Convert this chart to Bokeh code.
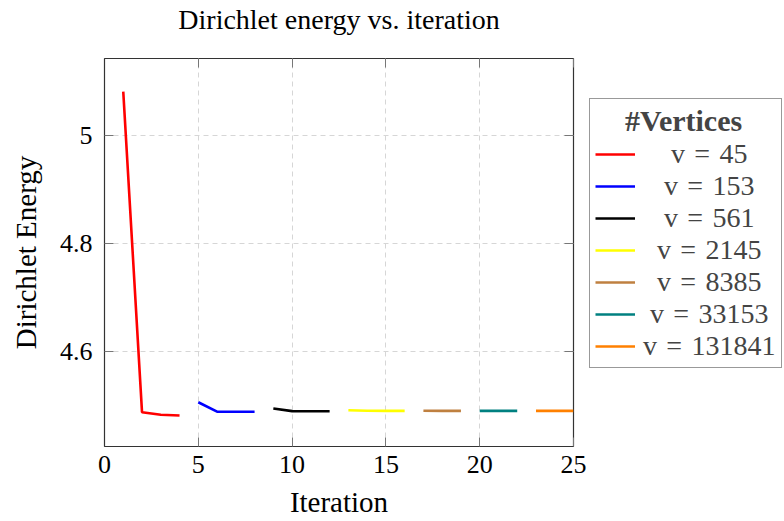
from bokeh.plotting import figure
from bokeh.layouts import row
from bokeh.models import Range1d, LinearAxis, Legend, LegendItem, FixedTicker
from bokeh.embed import file_html
from bokeh.resources import INLINE

# Dirichlet energy per iteration, one run per mesh resolution
vertices = [45, 153, 561, 2145, 8385, 33153, 131841]
iters_45 = [1, 2, 3, 4]
energy_45 = [5.0815, 4.4876, 4.4828, 4.4815]
iters_153 = [5, 6, 7, 8]
energy_153 = [4.5060, 4.4886, 4.4885, 4.4885]
iters_561 = [9, 10, 11, 12]
energy_561 = [4.4944, 4.4895, 4.4894, 4.4894]
iters_2145 = [13, 14, 15, 16]
energy_2145 = [4.4913, 4.4902, 4.4901, 4.4901]
iters_8385 = [17, 18, 19]
energy_8385 = [4.4902, 4.4901, 4.4901]
iters_33153 = [20, 21, 22]
energy_33153 = [4.4901, 4.4901, 4.4901]
iters_131841 = [23, 24, 25]
energy_131841 = [4.4901, 4.4901, 4.4901]

x_ticks = [0, 5, 10, 15, 20, 25]
y_ticks = [4.6, 4.8, 5.0]

series = [
    (iters_45, energy_45, "#ff0000"),
    (iters_153, energy_153, "#0000ff"),
    (iters_561, energy_561, "#000000"),
    (iters_2145, energy_2145, "#ffff00"),
    (iters_8385, energy_8385, "#bf8040"),
    (iters_33153, energy_33153, "#008080"),
    (iters_131841, energy_131841, "#ff8000"),
]

FONT = "Liberation Serif"
TICK_FS = "26px"
LABEL_FS = "29px"
LINE_W = 2.6
TICK_COLOR = "#777777"
FRAME_COLOR = "#333333"

p = figure(
    width=588, height=521,
    x_range=Range1d(0, 25), y_range=Range1d(4.424, 5.143),
    output_backend="svg", toolbar_location=None,
    min_border_left=104, min_border_right=15,
    min_border_top=58, min_border_bottom=75,
    title="Dirichlet energy vs. iteration",
)
p.title.text_font = FONT
p.title.text_font_size = "28px"
p.title.text_font_style = "normal"
p.title.align = "center"
p.title.text_color = "#000000"
p.title.standoff = 0
# keep the title well clear of the frame
p.title.padding = {"left": 0, "right": 0, "top": 0, "bottom": 24}

p.outline_line_color = FRAME_COLOR
p.outline_line_width = 1.2
p.background_fill_color = "white"
p.border_fill_color = "white"

for ax in (p.xaxis[0], p.yaxis[0]):
    ax.major_label_text_font = FONT
    ax.major_label_text_font_size = TICK_FS
    ax.major_label_text_color = "#000000"
    ax.axis_label_text_font = FONT
    ax.axis_label_text_font_size = LABEL_FS
    ax.axis_label_text_font_style = "normal"
    ax.axis_label_text_color = "#000000"
    ax.major_tick_in = 9
    ax.major_tick_out = 0
    ax.minor_tick_in = 0
    ax.minor_tick_out = 0
    ax.major_tick_line_color = TICK_COLOR
    ax.axis_line_color = FRAME_COLOR

p.xaxis[0].ticker = FixedTicker(ticks=x_ticks)
p.yaxis[0].ticker = FixedTicker(ticks=y_ticks)
p.xaxis[0].axis_label = "Iteration"
p.yaxis[0].axis_label = "Dirichlet Energy"
p.xaxis[0].major_label_standoff = 9
p.xaxis[0].axis_label_standoff = 10
p.yaxis[0].major_label_standoff = 12
p.yaxis[0].axis_label_standoff = 15
p.yaxis[0].major_label_overrides = {4.6: "4.6", 4.8: "4.8", 5.0: "5"}

# mirrored inward ticks on the top and right edges, without labels
top_ax = LinearAxis(ticker=FixedTicker(ticks=x_ticks),
                    major_label_overrides={t: "" for t in x_ticks})
right_ax = LinearAxis(ticker=FixedTicker(ticks=y_ticks),
                      major_label_overrides={t: "" for t in y_ticks})
for ax in (top_ax, right_ax):
    ax.major_label_standoff = 0
    ax.major_tick_in = 9
    ax.major_tick_out = 0
    ax.minor_tick_in = 0
    ax.minor_tick_out = 0
    ax.major_tick_line_color = TICK_COLOR
    ax.axis_line_color = None
p.add_layout(top_ax, "above")
p.add_layout(right_ax, "right")

p.xgrid.ticker = FixedTicker(ticks=x_ticks)
p.ygrid.ticker = FixedTicker(ticks=y_ticks)
for g in (p.xgrid, p.ygrid):
    g.grid_line_color = "#d6d6d6"
    g.grid_line_dash = "5 4"
    g.grid_line_width = 1

for xs, ys, color in series:
    p.line(xs, ys, line_color=color, line_width=LINE_W)

# side panel holding the legend; its lines fall outside its ranges
side = figure(
    width=196, height=521,
    x_range=Range1d(100, 101), y_range=Range1d(100, 101),
    output_backend="svg", toolbar_location=None,
    min_border=0, outline_line_color=None,
)
side.axis.visible = False
side.grid.visible = False

items = []
for (xs, ys, color), v in zip(series, vertices):
    r = side.line(xs, ys, line_color=color, line_width=LINE_W)
    gap = 6 - len(str(v))
    pad = "\u2007" * (gap // 2) + ("\u2005" if gap % 2 else "")
    items.append(LegendItem(label=f"{pad}v\u2004=\u2004{v}", renderers=[r]))

legend = Legend(
    items=items,
    title="\u2007\u2007#Vertices",
    location=(1, 78),
    margin=0,
    padding=5,
    spacing=0,
    glyph_width=40,
    glyph_height=28,
    label_standoff=8,
    label_width=133,
    label_text_font=FONT,
    label_text_font_size="28px",
    title_text_font=FONT,
    title_text_font_size="30px",
    title_text_font_style="bold",
    title_standoff=0,
    border_line_color=FRAME_COLOR,
    border_line_width=1.2,
    background_fill_alpha=1,
)
side.add_layout(legend)

layout = row(p, side)
open("out.html", "w").write(file_html(layout, INLINE))
